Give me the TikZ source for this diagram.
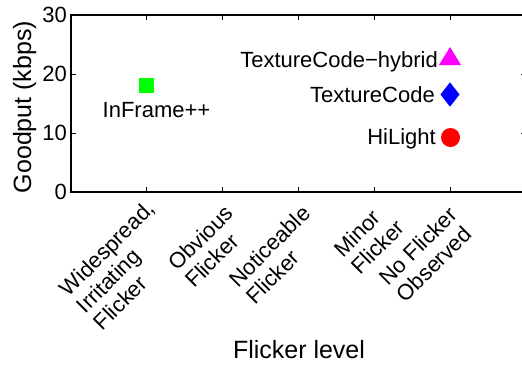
\documentclass[tikz,border=0pt]{standalone}
\usepackage{fontspec}
\setmainfont{Liberation Sans}
\definecolor{mkmag}{RGB}{255,0,255}
\definecolor{mkgreen}{RGB}{0,255,0}
\definecolor{mkblue}{RGB}{0,0,255}
\definecolor{mkred}{RGB}{255,0,0}
\begin{document}
\begin{tikzpicture}[x=1pt,y=-1pt,
  axisline/.style={line width=1.3pt},
  tickline/.style={line width=0.9pt},
  ticklab/.style={font=\fontsize{22}{22}\selectfont, inner sep=0pt, anchor=east},
  xl/.style={font=\fontsize{22}{24}\selectfont, rotate=45, align=left, anchor=base west, inner sep=0pt},
  axlab/.style={font=\fontsize{25}{25}\selectfont, inner sep=0pt},
  datalab/.style={font=\fontsize{22}{22}\selectfont, inner sep=0pt, anchor=base east}]
\useasboundingbox (0,0) rectangle (522,365);
% axes box
\coordinate (ll) at (71,192);
\coordinate (ur) at (526,15);
\draw[axisline] (ll) rectangle (ur);
% x ticks
\foreach \k in {1,...,5} {
  \draw[tickline] (71+\k*75.83,192) -- ++(0,-5);
  \draw[tickline] (71+\k*75.83,15) -- ++(0,5);
}
% y ticks and labels
\foreach \v in {0,10,20,30} {
  \draw[tickline] (71,192-\v*5.9) -- ++(5,0);
  \draw[tickline] (526,192-\v*5.9) -- ++(-5,0);
  \node[ticklab] (yt\v) at (67,192-\v*5.9) {\v};
}
% x tick labels (anchor: start of the last line's baseline)
\node[xl] (x1) at (102.7,331.3) {Widespread,\\Irritating\\Flicker};
\node[xl] (x2) at (194.4,289.1) {Obvious\\Flicker};
\node[xl] (x3) at (255,305.5) {Noticeable\\Flicker};
\node[xl] (x4) at (360,275.5) {Minor\\Flicker};
\node[xl] (x5) at (405.5,303.5) {No Flicker\\Observed};
% axis labels
\node[axlab, rotate=90, anchor=base] (ylab) at (31,107) {Goodput (kbps)};
\node[axlab, anchor=base] (xlabel) at (299,358) {Flicker level};
% data
\node[fill=mkgreen, draw=none, minimum size=15pt, inner sep=0pt] (inframe) at (146.5,85) {};
\node[font=\fontsize{22}{22}\selectfont, inner sep=0pt, anchor=base] (inframel) at (156.5,117.7) {InFrame++};
\fill[mkmag] (439,65) -- (450,47) -- (461,65) -- cycle;
\fill[mkblue] (450,82.3) -- (459.5,94.5) -- (450,106.7) -- (440.5,94.5) -- cycle;
\fill[mkred] (450.5,137.5) circle (9.5);
\node[datalab] (hybl) at (438,67) {TextureCode−hybrid};
\node[datalab] (texl) at (435,102) {TextureCode};
\node[datalab] (hil) at (436,144) {HiLight};
\end{tikzpicture}
\end{document}
